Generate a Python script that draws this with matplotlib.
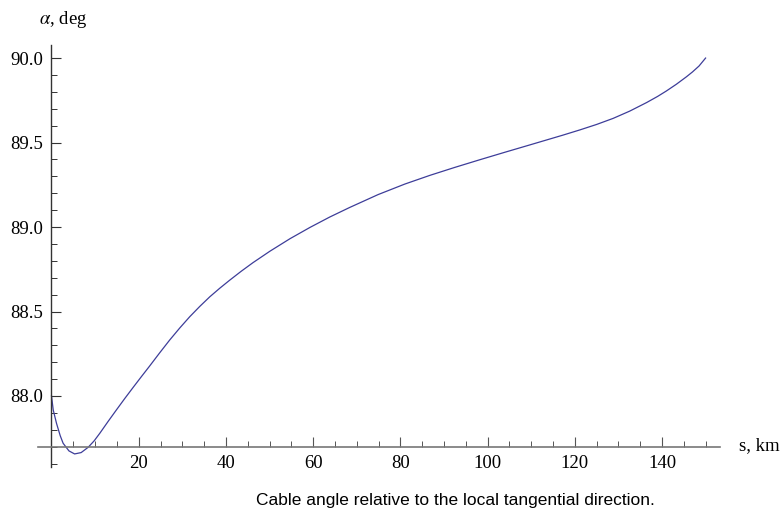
import matplotlib.pyplot as plt
from matplotlib.ticker import MultipleLocator, FixedLocator

# cable angle readings
s_km = [0, 0.4, 1.15, 2.0, 2.67, 4.0, 5.3, 6.8, 8.4, 9.8, 11.1, 13.0, 14.9, 16.8,
        18.7, 20.6, 22.5, 24.8, 27.1, 29.4, 31.7, 34.0, 36.3, 38.6, 40.9, 43.5,
        46.2, 50.1, 54.7, 59.3, 63.8, 68.4, 74.9, 81.0, 86.8, 92.5, 98.2, 103.9,
        109.7, 113.5, 117.3, 121.2, 125.0, 128.8, 132.6, 136.5, 139.0, 141.0,
        143.3, 145.6, 147.0, 148.5, 150.0]
alpha_deg = [88.0, 87.917, 87.838, 87.765, 87.72, 87.675, 87.657, 87.665, 87.696,
             87.735, 87.78, 87.85, 87.918, 87.985, 88.05, 88.114, 88.177, 88.255,
             88.331, 88.402, 88.469, 88.53, 88.587, 88.638, 88.686, 88.738,
             88.789, 88.857, 88.931, 88.998, 89.059, 89.116, 89.192, 89.254,
             89.306, 89.353, 89.398, 89.442, 89.486, 89.515, 89.544, 89.575,
             89.607, 89.643, 89.686, 89.737, 89.773, 89.805, 89.845, 89.889,
             89.918, 89.953, 90.0]
x_labels = [20, 40, 60, 80, 100, 120, 140]
y_labels = [88.0, 88.5, 89.0, 89.5, 90.0]

plt.rcParams['font.family'] = 'Liberation Serif'
plt.rcParams['mathtext.fontset'] = 'stix'

fig = plt.figure(figsize=(7.83, 5.12), dpi=100)
ax = fig.add_axes([0.0485, 0.088, 0.871, 0.824])
ax.plot(s_km, alpha_deg, color='#3d3d99', linewidth=0.9)

ax.set_xlim(-3.1, 153.3)
ax.set_ylim(87.58, 90.077)

ax.spines['top'].set_visible(False)
ax.spines['right'].set_visible(False)
ax.spines['left'].set_position(('data', 0))
ax.spines['bottom'].set_position(('data', 87.7))
ax.spines['left'].set_color('#333333')
ax.spines['bottom'].set_color('#777777')
ax.spines['left'].set_linewidth(1.0)
ax.spines['bottom'].set_linewidth(1.2)

ax.xaxis.set_major_locator(FixedLocator(x_labels))
ax.xaxis.set_minor_locator(MultipleLocator(5))
ax.yaxis.set_major_locator(FixedLocator(y_labels))
ax.yaxis.set_minor_locator(MultipleLocator(0.1))
ax.set_yticklabels(['%.1f' % v for v in y_labels])

ax.tick_params(axis='x', which='both', direction='in', color='#555555', labelsize=13.5, pad=6)
ax.tick_params(axis='y', which='both', direction='in', color='#333333', labelsize=13.5, pad=6)
ax.tick_params(which='major', length=7, width=0.8)
ax.tick_params(which='minor', length=4, width=0.7)

fig.text(63 / 783, 1 - 20 / 512, r'$\alpha$, deg', ha='center', va='center', fontsize=13.5)
fig.text(759 / 783, 1 - 446 / 512, 's, km', ha='center', va='center', fontsize=13.5)
fig.text(455 / 783, 1 - 500 / 512, 'Cable angle relative to the local tangential direction.',
         ha='center', va='center', fontsize=12.5, family='Liberation Sans')

fig.savefig('out.png', dpi=100)
